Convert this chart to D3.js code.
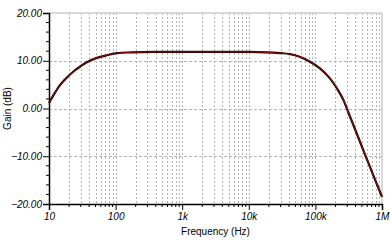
<!DOCTYPE html>
<html>
<head>
<meta charset="utf-8">
<script src="https://cdn.jsdelivr.net/npm/d3@7/dist/d3.min.js"></script>
<style>
  body { margin: 0; background: #fff; }
  svg { display: block; font-family: "Liberation Sans", Arial, sans-serif; }
</style>
</head>
<body>
<div id="chart"></div>
<script>
// frequency response (Hz, dB)
let freqs = [10, 11.8, 14.8, 18.6, 23.5, 29.5, 37, 52.5, 74, 105, 174, 400, 1000, 10000, 29500, 41700, 58000, 83000, 117000, 165000, 224000, 263000, 316000, 398000, 562000, 741000, 1000000];
let gains = [1.15, 2.9, 5.0, 6.5, 7.8, 8.8, 9.7, 10.6, 11.15, 11.6, 11.75, 11.85, 11.85, 11.85, 11.6, 11.4, 10.85, 9.8, 8.4, 6.3, 3.6, 1.8, -1.0, -4.5, -9.8, -14.0, -18.5];

let xTicks = [10, 100, 1000, 10000, 100000, 1000000];
let xTickLabels = ["10", "100", "1k", "10k", "100k", "1M"];
let yTicks = [20, 10, 0, -10, -20];

let larg = 390;
let alt = 245;
let esq = 49, dir = 382, topo = 13, base = 204;

let svg = d3.select("#chart")
            .append("svg")
            .attr("width", larg)
            .attr("height", alt);

let x = d3.scaleLog()
            .domain([10, 1000000])
            .range([esq, dir]);

let y = d3.scaleLinear()
            .domain([-20, 20])
            .range([base, topo]);

// minor frequencies 2..9 x each decade, plus the decades
let gridFreqs = [];
for (let k = 1; k < 6; k++) {
    for (let m = 1; m < 10; m++) {
        let f = m * Math.pow(10, k);
        if (f > 10) gridFreqs.push(f);
    }
}

// vertical grid
svg.append("g")
    .selectAll("line")
    .data(gridFreqs.filter(f => f < 1000000))
    .enter()
        .append("line")
        .attr("x1", d => Math.round(x(d)) + 0.5)
        .attr("x2", d => Math.round(x(d)) + 0.5)
        .attr("y1", topo)
        .attr("y2", base)
        .attr("stroke", "#b4b4b4")
        .attr("stroke-width", 1)
        .attr("stroke-dasharray", "2,2");

// horizontal grid
svg.append("g")
    .selectAll("line")
    .data([10, 0, -10])
    .enter()
        .append("line")
        .attr("x1", esq)
        .attr("x2", dir)
        .attr("y1", d => Math.round(y(d)) + 0.5)
        .attr("y2", d => Math.round(y(d)) + 0.5)
        .attr("stroke", "#b4b4b4")
        .attr("stroke-width", 1)
        .attr("stroke-dasharray", "3,2");

// top and right border
svg.append("line")
    .attr("x1", esq).attr("x2", dir)
    .attr("y1", topo).attr("y2", topo)
    .attr("stroke", "#cccccc").attr("stroke-width", 1.5);
svg.append("line")
    .attr("x1", dir).attr("x2", dir)
    .attr("y1", topo).attr("y2", base)
    .attr("stroke", "#cccccc").attr("stroke-width", 1.5);

// y axis
let yMinor = d3.range(-20, 20.1, 2).filter(v => v % 10 !== 0);
let yAxis = d3.axisLeft(y)
                .tickValues(yTicks)
                .tickSize(6)
                .tickFormat(d3.format(".2f"));
let gy = svg.append("g")
    .attr("transform", "translate(" + esq + ",0)")
    .call(yAxis);
gy.select(".domain").attr("stroke-width", 1.5);
gy.selectAll("text")
    .style("font", "italic 10px 'Liberation Sans', Arial, sans-serif")
    .attr("x", -7);
svg.append("g")
    .selectAll("line")
    .data(yMinor)
    .enter()
        .append("line")
        .attr("x1", esq - 3)
        .attr("x2", esq)
        .attr("y1", d => y(d))
        .attr("y2", d => y(d))
        .attr("stroke", "black");

// x axis
let xAxis = d3.axisBottom(x)
                .tickValues(xTicks)
                .tickSize(6)
                .tickFormat((d, i) => xTickLabels[i]);
let gx = svg.append("g")
    .attr("transform", "translate(0," + base + ")")
    .call(xAxis);
gx.select(".domain").attr("stroke-width", 1.5);
gx.selectAll("text")
    .style("font", "italic 10px 'Liberation Sans', Arial, sans-serif")
    .attr("y", 9);
svg.append("g")
    .selectAll("line")
    .data(gridFreqs.filter(f => xTicks.indexOf(f) < 0))
    .enter()
        .append("line")
        .attr("x1", d => x(d))
        .attr("x2", d => x(d))
        .attr("y1", base)
        .attr("y2", base + 3)
        .attr("stroke", "black");

// axis titles
svg.append("text")
    .attr("x", (esq + dir) / 2)
    .attr("y", 235)
    .attr("text-anchor", "middle")
    .style("font", "10px 'Liberation Sans', Arial, sans-serif")
    .text("Frequency (Hz)");

svg.append("text")
    .attr("transform", "translate(11," + ((topo + base) / 2) + ") rotate(-90)")
    .attr("text-anchor", "middle")
    .style("font", "10px 'Liberation Sans', Arial, sans-serif")
    .text("Gain (dB)");

// response curve
let pts = freqs.map((f, i) => [f, gains[i]]);
let line = d3.line()
            .x(d => x(d[0]))
            .y(d => y(d[1]))
            .curve(d3.curveCatmullRom.alpha(0.5));

svg.append("path")
    .datum(pts)
    .attr("d", line)
    .attr("fill", "none")
    .attr("stroke", "#1a0000")
    .attr("stroke-width", 2.2);
svg.append("path")
    .datum(pts)
    .attr("d", line)
    .attr("fill", "none")
    .attr("stroke", "#8b1010")
    .attr("stroke-width", 1);
</script>
</body>
</html>
